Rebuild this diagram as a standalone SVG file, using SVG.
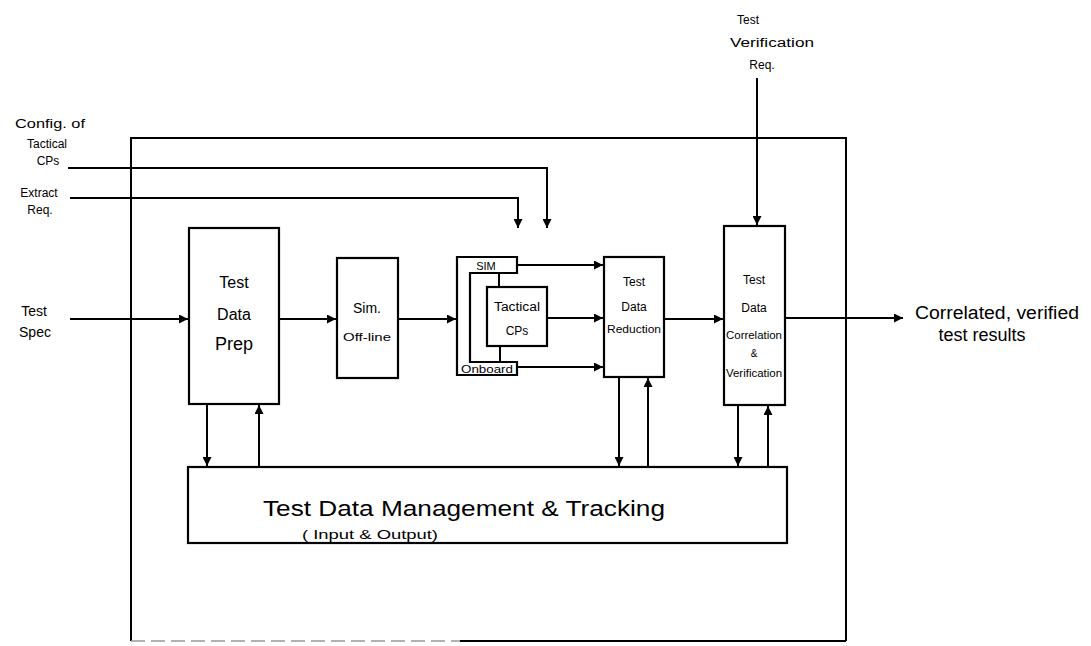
<svg xmlns="http://www.w3.org/2000/svg" width="1091" height="646" viewBox="0 0 1091 646">
<style>
.box{fill:#fff;stroke:#000;stroke-width:2.2}
.ln{fill:none;stroke:#000;stroke-width:2}
.t{font-family:"Liberation Sans",Arial,sans-serif;fill:#000;text-anchor:middle}
.s10{font-size:10px}.s11{font-size:11px}.s12{font-size:12px}.s14{font-size:14px}.s16{font-size:16px}.s18{font-size:18px}.s22{font-size:22px}
</style>
<defs>
<marker id="ah" markerWidth="9" markerHeight="9" refX="9" refY="4.5" orient="auto" markerUnits="userSpaceOnUse">
<path d="M0,0 L9,4.5 L0,9 z" fill="#000"/>
</marker>
</defs>
<rect width="1091" height="646" fill="#fff"/>
<g id="boundary">
<path class="ln" d="M131,641 V138 H846 V641"/>
<path d="M131,641 H460" fill="none" stroke="#999" stroke-width="1.5" stroke-dasharray="14,6"/>
<path class="ln" d="M460,641 H846"/>
</g>
<g id="connectors">
<path class="ln" d="M70,319 H188" marker-end="url(#ah)"/>
<path class="ln" d="M279,319 H336" marker-end="url(#ah)"/>
<path class="ln" d="M398,319 H456" marker-end="url(#ah)"/>
<path class="ln" d="M517,265 H603" marker-end="url(#ah)"/>
<path class="ln" d="M547,318 H603" marker-end="url(#ah)"/>
<path class="ln" d="M517,367 H603" marker-end="url(#ah)"/>
<path class="ln" d="M499,273 V287"/>
<path class="ln" d="M500,346 V362"/>
<path class="ln" d="M664,319 H723" marker-end="url(#ah)"/>
<path class="ln" d="M785,318 H903" marker-end="url(#ah)"/>
<path class="ln" d="M757,78 V225" marker-end="url(#ah)"/>
<path class="ln" d="M68,168 H547 V228" marker-end="url(#ah)"/>
<path class="ln" d="M70,198 H518 V228" marker-end="url(#ah)"/>
<path class="ln" d="M207,404 V466" marker-end="url(#ah)"/>
<path class="ln" d="M259,467 V405" marker-end="url(#ah)"/>
<path class="ln" d="M619,377 V466" marker-end="url(#ah)"/>
<path class="ln" d="M648,467 V378" marker-end="url(#ah)"/>
<path class="ln" d="M738,405 V466" marker-end="url(#ah)"/>
<path class="ln" d="M768,467 V406" marker-end="url(#ah)"/>
</g>
<g id="prep">
<rect class="box" x="189" y="228" width="90" height="176"/>
<text class="t s16" x="234" y="288">Test</text>
<text class="t s16" x="234" y="320">Data</text>
<text class="t s18" x="234" y="350">Prep</text>
</g>
<g id="sim-offline">
<rect class="box" x="337" y="258" width="61" height="120"/>
<text class="t s14" x="367" y="313">Sim.</text>
<text class="t s11" x="367" y="341" textLength="48" lengthAdjust="spacingAndGlyphs">Off-line</text>
</g>
<g id="sim-onboard">
<path class="box" d="M457,257 H517 V273 H470 V362 H517 V375 H457 Z"/>
<text class="t s11" x="486" y="270">SIM</text>
<text class="t s10" x="487" y="373" textLength="52" lengthAdjust="spacingAndGlyphs">Onboard</text>
</g>
<g id="tactical">
<rect class="box" x="487" y="287" width="60" height="59"/>
<text class="t s12" x="517" y="311" textLength="46" lengthAdjust="spacingAndGlyphs">Tactical</text>
<text class="t s12" x="517" y="335">CPs</text>
</g>
<g id="reduction">
<rect class="box" x="604" y="257" width="60" height="120"/>
<text class="t s12" x="634" y="286">Test</text>
<text class="t s12" x="634" y="311">Data</text>
<text class="t s11" x="634" y="333" textLength="54" lengthAdjust="spacingAndGlyphs">Reduction</text>
</g>
<g id="correlation">
<rect class="box" x="724" y="226" width="61" height="179"/>
<text class="t s12" x="754" y="284">Test</text>
<text class="t s12" x="754" y="312">Data</text>
<text class="t s10" x="754" y="339" textLength="56" lengthAdjust="spacingAndGlyphs">Correlation</text>
<text class="t s10" x="754" y="357">&amp;</text>
<text class="t s10" x="754" y="377" textLength="56" lengthAdjust="spacingAndGlyphs">Verification</text>
</g>
<g id="management">
<rect class="box" x="188" y="467" width="599" height="76"/>
<text class="t s22" x="464" y="516" textLength="402" lengthAdjust="spacingAndGlyphs">Test Data Management &amp; Tracking</text>
<text class="t s12" x="370" y="539" textLength="136" lengthAdjust="spacingAndGlyphs">( Input &amp; Output)</text>
</g>
<g id="labels">
<text class="t s12" x="50" y="128" textLength="70" lengthAdjust="spacingAndGlyphs">Config. of</text>
<text class="t s12" x="47" y="148">Tactical</text>
<text class="t s12" x="48" y="165">CPs</text>
<text class="t s12" x="39" y="197">Extract</text>
<text class="t s12" x="40" y="214">Req.</text>
<text class="t s14" x="34" y="316">Test</text>
<text class="t s14" x="35" y="337">Spec</text>
<text class="t s12" x="748" y="24">Test</text>
<text class="t s12" x="772" y="47" textLength="84" lengthAdjust="spacingAndGlyphs">Verification</text>
<text class="t s12" x="762" y="69">Req.</text>
<text class="t s18" x="997" y="319" textLength="164" lengthAdjust="spacingAndGlyphs">Correlated, verified</text>
<text class="t s18" x="982" y="341">test results</text>
</g>
</svg>
